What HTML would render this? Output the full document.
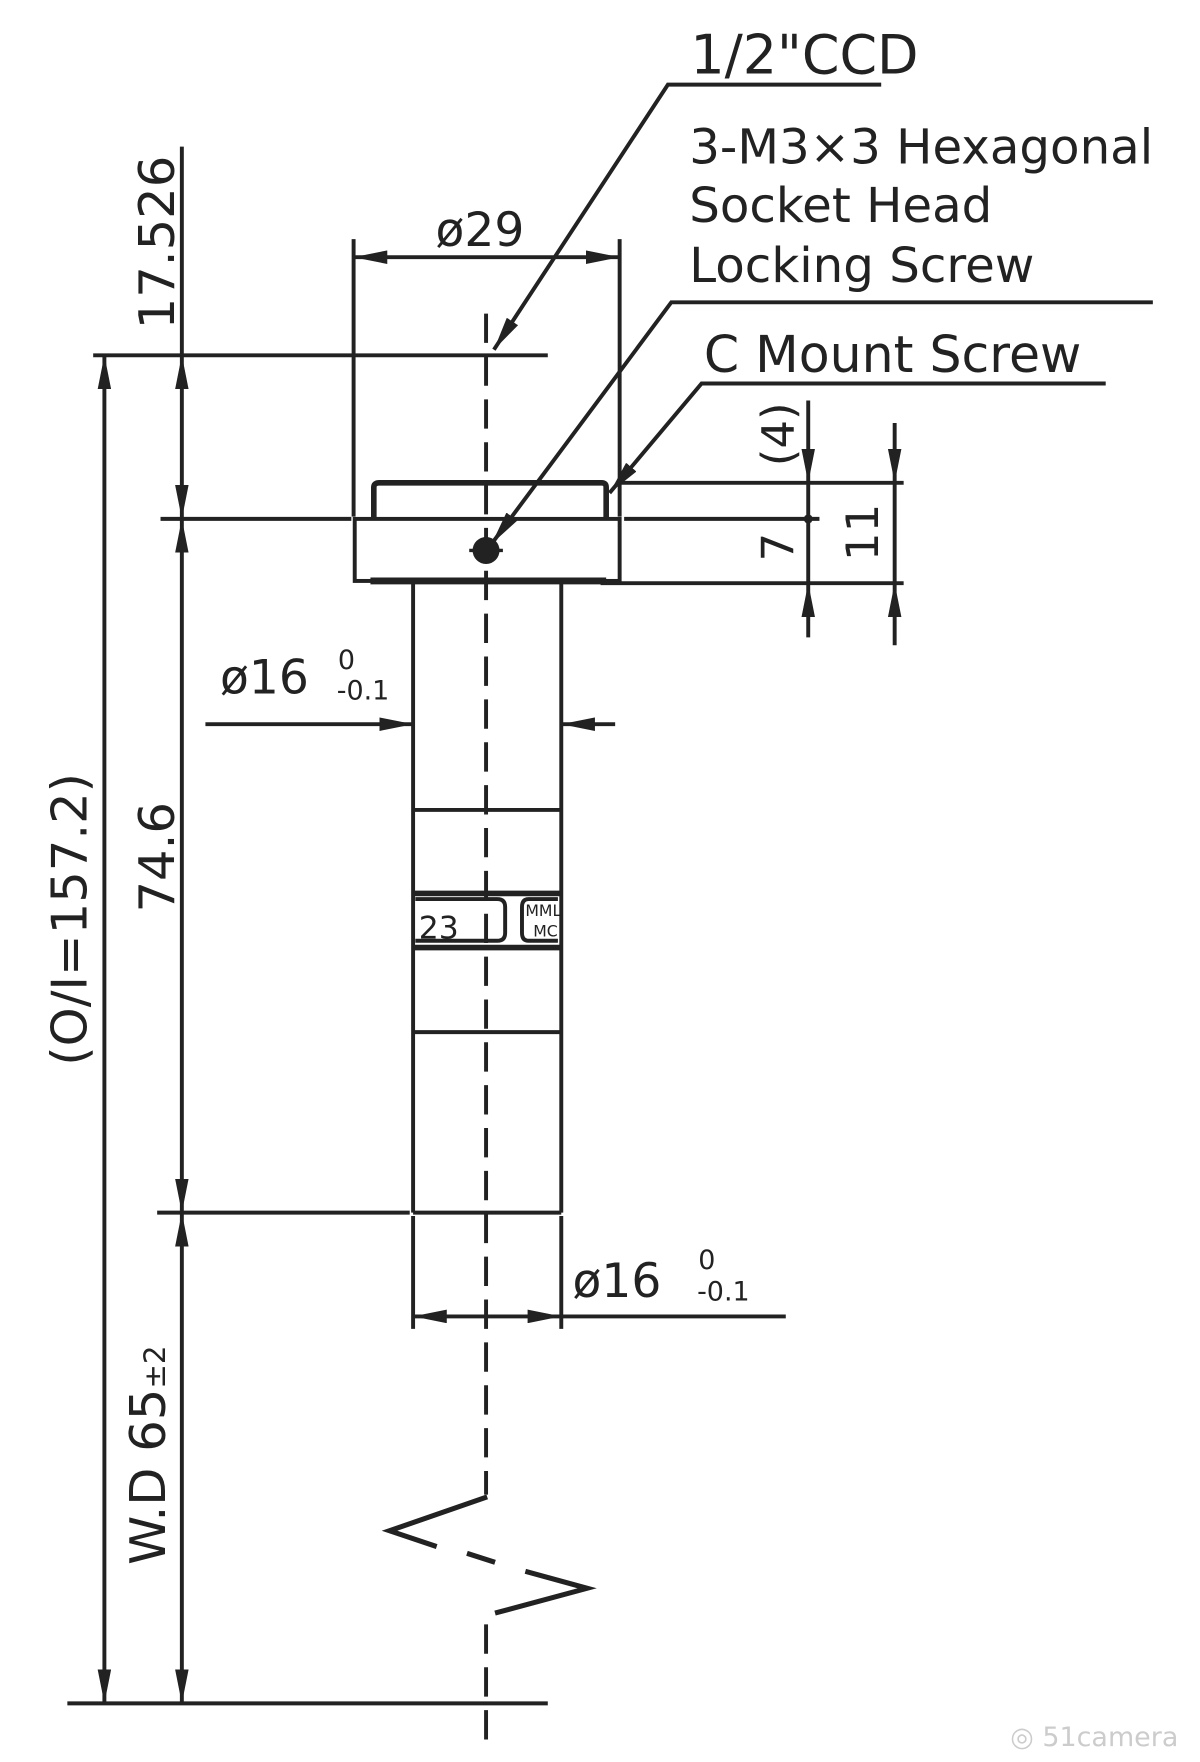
<!DOCTYPE html>
<html><head><meta charset="utf-8"><style>
html,body{margin:0;padding:0;background:#fff;}
svg{display:block;}
text{font-family:"DejaVu Sans","Liberation Sans",sans-serif;fill:#222;}
</style></head><body>
<svg width="1200" height="1762" viewBox="0 0 1069 1562" preserveAspectRatio="none" xmlns="http://www.w3.org/2000/svg">
<defs>
<marker id="a" viewBox="0 0 30 12" refX="30" refY="6" markerWidth="30" markerHeight="12" markerUnits="userSpaceOnUse" orient="auto-start-reverse"><path d="M0,0 L30,6 L0,12 Z" fill="#222"/></marker>
</defs>
<g stroke="#222" stroke-width="3.5" fill="none">
<line x1="433" y1="278" x2="433" y2="1325" stroke-dasharray="26,12"/>
<line x1="433" y1="1440" x2="433" y2="1545" stroke-dasharray="26,12"/>
<polyline points="434,1327 347,1357 389,1371" stroke-width="4.5"/>
<line x1="416" y1="1377" x2="441" y2="1385" stroke-width="4.5"/>
<polyline points="468,1393 523,1408 441,1430" stroke-width="4.5"/>
<line x1="315" y1="212" x2="315" y2="458"/>
<line x1="552" y1="212" x2="552" y2="458"/>
<line x1="315" y1="228" x2="552" y2="228" marker-start="url(#a)" marker-end="url(#a)"/>
<polyline points="785,75 595,75 440,310" marker-end="url(#a)"/>
<polyline points="1027,268 598,268 438,482" marker-end="url(#a)"/>
<polyline points="985,340 625,340 543,437" marker-end="url(#a)"/>
<line x1="83" y1="315" x2="488" y2="315"/>
<line x1="143" y1="460" x2="313" y2="460"/>
<line x1="556" y1="460" x2="730" y2="460"/>
<line x1="552" y1="428" x2="805" y2="428"/>
<line x1="535" y1="517" x2="805" y2="517"/>
<line x1="140" y1="1075" x2="365" y2="1075"/>
<line x1="60" y1="1510" x2="488" y2="1510"/>
<path d="M333,460 V432 Q333,428 338,428 H536 Q540,428 540,432 V460" stroke-width="5"/>
<rect x="316" y="460" width="236" height="55" stroke-width="3.5"/>
<line x1="330" y1="515" x2="540" y2="515" stroke-width="6"/>
<line x1="368" y1="515" x2="368" y2="1075"/>
<line x1="500" y1="515" x2="500" y2="1075"/>
<line x1="368" y1="718" x2="500" y2="718"/>
<line x1="368" y1="792" x2="500" y2="792" stroke-width="5"/>
<line x1="368" y1="840" x2="500" y2="840" stroke-width="5"/>
<line x1="368" y1="915" x2="500" y2="915"/>
<line x1="368" y1="1075" x2="500" y2="1075"/>
<path d="M370,797 H443 Q450,797 450,804 V827 Q450,834 443,834 H370"/>
<path d="M497,797 H471 Q465,797 465,804 V827 Q465,834 471,834 H497"/>
<line x1="183" y1="642" x2="368" y2="642" marker-end="url(#a)"/>
<line x1="548" y1="642" x2="500" y2="642" marker-end="url(#a)"/>
<line x1="368" y1="1078" x2="368" y2="1178"/>
<line x1="500" y1="1078" x2="500" y2="1178"/>
<line x1="368" y1="1167" x2="500" y2="1167" marker-start="url(#a)" marker-end="url(#a)"/>
<line x1="500" y1="1167" x2="700" y2="1167"/>
<line x1="162" y1="130" x2="162" y2="315"/>
<line x1="162" y1="315" x2="162" y2="460" marker-start="url(#a)" marker-end="url(#a)"/>
<line x1="162" y1="460" x2="162" y2="1075" marker-start="url(#a)" marker-end="url(#a)"/>
<line x1="162" y1="1075" x2="162" y2="1510" marker-start="url(#a)" marker-end="url(#a)"/>
<line x1="93" y1="315" x2="93" y2="1510" marker-start="url(#a)" marker-end="url(#a)"/>
<line x1="720" y1="355" x2="720" y2="428" marker-end="url(#a)"/>
<line x1="720" y1="428" x2="720" y2="517"/>
<line x1="720" y1="565" x2="720" y2="517" marker-end="url(#a)"/>
<line x1="797" y1="375" x2="797" y2="428" marker-end="url(#a)"/>
<line x1="797" y1="428" x2="797" y2="517"/>
<line x1="797" y1="572" x2="797" y2="517" marker-end="url(#a)"/>
</g>
<circle cx="720" cy="460" r="4" fill="#222"/>
<circle cx="433" cy="488" r="12" fill="#222"/>
<line x1="418" y1="488" x2="448" y2="488" stroke="#222" stroke-width="3"/>
<text x="615" y="65" font-size="48">1/2"CCD</text>
<text x="614" y="145" font-size="43">3-M3×3 Hexagonal</text>
<text x="614" y="197" font-size="43">Socket Head</text>
<text x="614" y="250" font-size="43">Locking Screw</text>
<text x="627" y="330" font-size="45">C Mount Screw</text>
<text x="388" y="218" font-size="42">ø29</text>
<text x="196" y="615" font-size="42">ø16</text>
<text x="301" y="593" font-size="24">0</text>
<text x="300" y="620" font-size="24">-0.1</text>
<text x="510" y="1150" font-size="42">ø16</text>
<text x="622" y="1125" font-size="24">0</text>
<text x="621" y="1153" font-size="24">-0.1</text>
<text x="373" y="832" font-size="28">23</text>
<text x="468" y="812" font-size="14">MML</text>
<text x="475" y="830" font-size="14">MC</text>
<text transform="translate(155,215) rotate(-90)" text-anchor="middle" font-size="44">17.526</text>
<text transform="translate(155,760) rotate(-90)" text-anchor="middle" font-size="44">74.6</text>
<text transform="translate(147,1290) rotate(-90)" text-anchor="middle" font-size="44">W.D 65<tspan font-size="26">±2</tspan></text>
<text transform="translate(77,815) rotate(-90)" text-anchor="middle" font-size="44">(O/I=157.2)</text>
<text transform="translate(707,385) rotate(-90)" text-anchor="middle" font-size="40">(4)</text>
<text transform="translate(707,485) rotate(-90)" text-anchor="middle" font-size="40">7</text>
<text transform="translate(782,472) rotate(-90)" text-anchor="middle" font-size="40">11</text>
<text x="900" y="1548" font-size="24" style="fill:#ccc">◎ 51camera</text>
</svg>
</body></html>
